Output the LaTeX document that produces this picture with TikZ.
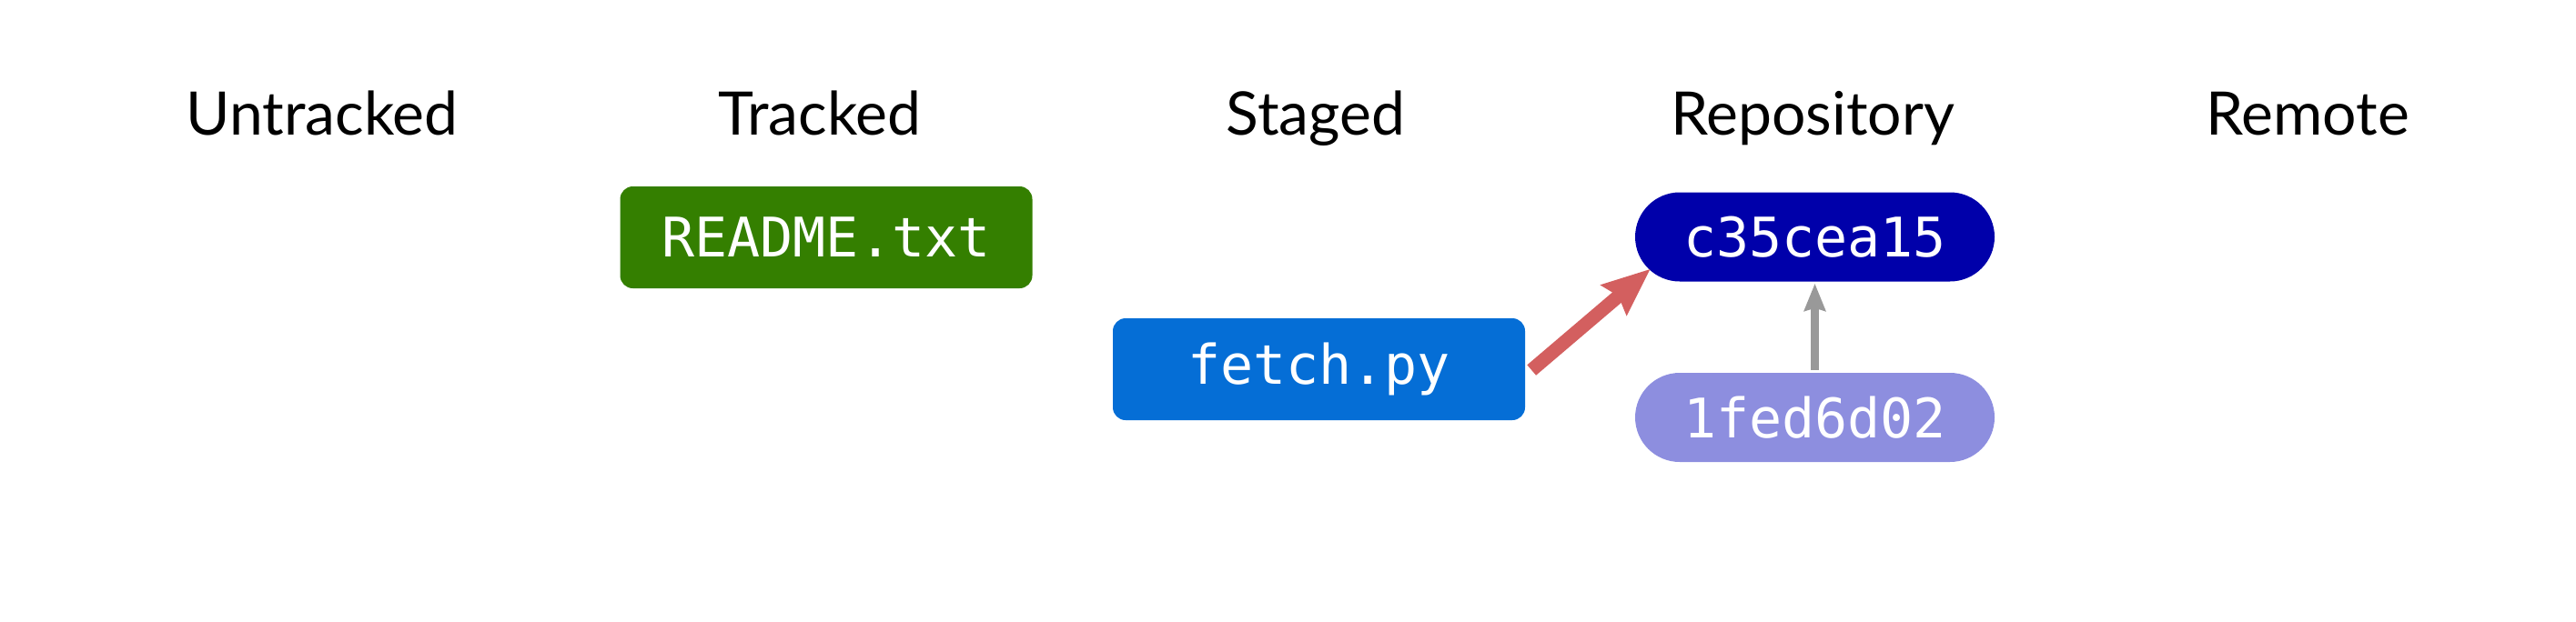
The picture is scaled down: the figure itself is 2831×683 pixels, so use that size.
\documentclass[tikz,border=0pt]{standalone}
\usepackage{fontspec}
\setmainfont{Lato}
\setmonofont{DejaVu Sans Mono}
\usetikzlibrary{arrows.meta,calc}
\definecolor{trackgreen}{HTML}{347F00}
\definecolor{stageblue}{HTML}{056ED6}
\definecolor{repoblue}{HTML}{0000AA}
\definecolor{oldcommit}{HTML}{8D8EDF}
\definecolor{arrowred}{HTML}{D35F5F}
\definecolor{arrowgray}{HTML}{999999}
\tikzset{
  colhead/.style={anchor=base, inner sep=0pt, font=\fontsize{66}{78}\selectfont},
  filebox/.style={rounded corners=14pt, inner sep=0pt, text=white,
    font=\ttfamily\fontsize{60}{70}\selectfont, minimum width=453pt, minimum height=112pt},
  commitbox/.style={rounded corners=49pt, inner sep=0pt, text=white,
    font=\ttfamily\fontsize{60}{70}\selectfont, minimum width=395pt, minimum height=98pt},
  stagearrow/.style={draw=arrowred, line width=15pt, -{Stealth[length=52pt,width=42pt,inset=6pt]}},
  parentarrow/.style={draw=arrowgray, line width=8.5pt, -{Stealth[length=30pt,width=23pt,inset=3pt]}}
}
\begin{document}
\begin{tikzpicture}[x=1pt, y=-1pt]
\useasboundingbox (0,0) rectangle (2831,683);
\node[colhead] (hu) at (354,148) {Untracked};
\node[colhead] (ht) at (901,148) {Tracked};
\node[colhead] (hs) at (1446,148) {Staged};
\node[colhead] (hr) at (1992,148) {Repository};
\node[colhead] (hm) at (2536,148) {Remote};
\node[filebox, fill=trackgreen] (readme) at (908,261) {README.txt};
\node[filebox, fill=stageblue] (fetch) at (1449.5,406) {fetch.py};
\node[commitbox, fill=repoblue] (c35) at (1994.5,260.5) {c35cea15};
\node[commitbox, fill=oldcommit] (c1f) at (1994.5,459) {1fed6d02};
\coordinate (tip) at ($(c35.south west)+(17,-14)$);
\coordinate (tail) at ($(fetch.east)+(7,1)$);
\draw[stagearrow] (tail) -- (tip);
\draw[parentarrow] ($(c1f.north)+(0,-3)$) -- ($(c35.south)+(0,2)$);
\end{tikzpicture}
\end{document}
